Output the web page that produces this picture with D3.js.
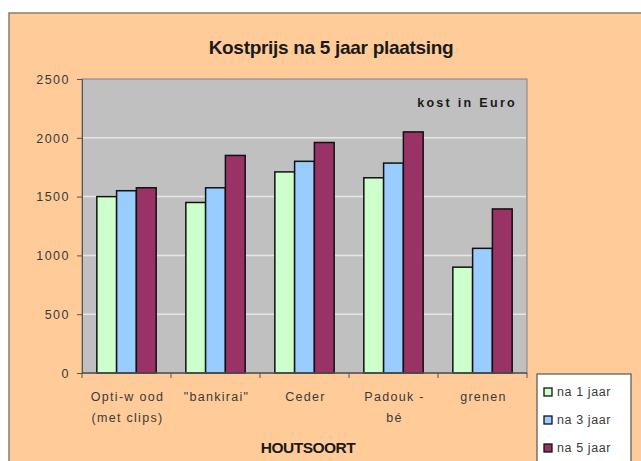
<!DOCTYPE html>
<html lang="nl">
<head>
  <meta charset="utf-8">
  <script src="https://d3js.org/d3.v7.min.js"></script>
  <style>
    body { margin: 0; background: #fff; }
    text { font-family: "Liberation Sans", Arial, sans-serif; }
  </style>
</head>
<body>
<svg id="chart" width="641" height="461"></svg>
<script>
  // data
  const categories = [["Opti-w ood", "(met clips)"], ["\"bankirai\""], ["Ceder"], ["Padouk -", "bé"], ["grenen"]];
  const seriesNames = ["na 1 jaar", "na 3 jaar", "na 5 jaar"];
  const seriesColors = ["#ccffcc", "#99ccff", "#993366"];
  const na1jaar = [1500, 1450, 1710, 1660, 900];
  const na3jaar = [1550, 1575, 1800, 1785, 1060];
  const na5jaar = [1575, 1850, 1960, 2050, 1395];
  const yTicks = [0, 500, 1000, 1500, 2000, 2500];

  const values = [na1jaar, na3jaar, na5jaar];
  const svg = d3.select("#chart");

  // outer chart area
  svg.append("rect")
    .attr("x", 9).attr("y", 13)
    .attr("width", 660).attr("height", 470)
    .style("fill", "#ffcc99")
    .style("stroke", "#8a7c6e")
    .style("stroke-width", 1.5);

  const plot = { left: 82, right: 527, top: 79, bottom: 373 };

  let x0 = d3.scaleBand()
    .domain(d3.range(categories.length))
    .range([plot.left, plot.right]);
  let x1 = d3.scaleBand()
    .domain(d3.range(seriesNames.length))
    .range([0, x0.bandwidth()])
    .paddingOuter(0.75);
  let y = d3.scaleLinear().domain([0, 2500]).range([plot.bottom, plot.top]);

  // plot area
  svg.append("rect")
    .attr("x", plot.left).attr("y", plot.top)
    .attr("width", plot.right - plot.left).attr("height", plot.bottom - plot.top)
    .style("fill", "#c0c0c0")
    .style("stroke", "#808080")
    .style("stroke-width", 1);

  // grid lines
  svg.append("g").selectAll("line")
    .data(yTicks.filter(d => d > 0 && d < 2500))
    .join("line")
    .attr("x1", plot.left + 1).attr("x2", plot.right - 1)
    .attr("y1", d => y(d)).attr("y2", d => y(d))
    .style("stroke", "#e6e6e6")
    .style("stroke-width", 1.5);

  // bars
  let groups = svg.append("g").selectAll("g")
    .data(categories)
    .join("g")
    .attr("transform", (d, i) => `translate(${x0(i)},0)`);

  groups.selectAll("rect")
    .data((d, i) => values.map((s, j) => ({ s: j, v: s[i] })))
    .join("rect")
    .attr("x", d => x1(d.s))
    .attr("width", x1.bandwidth())
    .attr("y", d => y(d.v))
    .attr("height", d => y(0) - y(d.v))
    .style("fill", d => seriesColors[d.s])
    .style("stroke", "#111")
    .style("stroke-width", 1.5);

  // y axis
  let yAxis = svg.append("g")
    .attr("transform", `translate(${plot.left},0)`)
    .call(d3.axisLeft(y).tickValues(yTicks).tickFormat(d3.format("d")).tickSize(5).tickPadding(7));
  yAxis.select(".domain").style("stroke", "#555");
  yAxis.selectAll(".tick line").style("stroke", "#555");
  yAxis.selectAll(".tick text")
    .style("font-size", "12.5px")
    .style("letter-spacing", "1.5px")
    .style("fill", "#3a3a3a")
    .attr("dy", "0.35em");

  // x axis
  svg.append("line")
    .attr("x1", plot.left).attr("x2", plot.right)
    .attr("y1", plot.bottom).attr("y2", plot.bottom)
    .style("stroke", "#555").style("stroke-width", 1.5);
  svg.append("g").selectAll("line")
    .data(d3.range(categories.length + 1))
    .join("line")
    .attr("x1", d => plot.left + d * x0.step())
    .attr("x2", d => plot.left + d * x0.step())
    .attr("y1", plot.bottom).attr("y2", plot.bottom + 5)
    .style("stroke", "#555");

  let xLabels = svg.append("g").selectAll("text")
    .data(categories)
    .join("text")
    .attr("x", (d, i) => x0(i) + x0.bandwidth() / 2 + 1)
    .attr("y", 401)
    .attr("text-anchor", "middle")
    .style("font-size", "12.5px")
    .style("letter-spacing", "1.3px")
    .style("fill", "#3a3a3a");
  xLabels.selectAll("tspan")
    .data(d => d)
    .join("tspan")
    .attr("x", function () { return this.parentNode.getAttribute("x"); })
    .attr("dy", (d, i) => i === 0 ? 0 : 21)
    .text(d => d);

  // titles
  svg.append("text")
    .attr("x", 331).attr("y", 54)
    .attr("text-anchor", "middle")
    .style("font-size", "19px")
    .style("font-weight", "bold")
    .style("letter-spacing", "-0.3px")
    .style("fill", "#1a1a1a")
    .text("Kostprijs na 5 jaar plaatsing");

  svg.append("text")
    .attr("x", 517).attr("y", 107)
    .attr("text-anchor", "end")
    .style("font-size", "12.5px")
    .style("font-weight", "bold")
    .style("letter-spacing", "2.3px")
    .style("fill", "#1a1a1a")
    .text("kost in Euro");

  svg.append("text")
    .attr("x", 308).attr("y", 453)
    .attr("text-anchor", "middle")
    .style("font-size", "15.5px")
    .style("font-weight", "bold")
    .style("letter-spacing", "-0.5px")
    .style("fill", "#1a1a1a")
    .text("HOUTSOORT");

  // legend
  let legend = svg.append("g").attr("transform", "translate(537,374)");
  legend.append("rect")
    .attr("width", 94).attr("height", 100)
    .style("fill", "#fff")
    .style("stroke", "#555")
    .style("stroke-width", 1.2);
  let items = legend.selectAll("g.item")
    .data(seriesNames)
    .join("g")
    .attr("class", "item")
    .attr("transform", (d, i) => `translate(7,${18 + i * 28})`);
  items.append("rect")
    .attr("x", 0).attr("y", -4)
    .attr("width", 8).attr("height", 8)
    .style("fill", (d, i) => seriesColors[i])
    .style("stroke", "#111")
    .style("stroke-width", 1.3);
  items.append("text")
    .attr("x", 13).attr("y", 0)
    .attr("dy", "0.35em")
    .style("font-size", "12.5px")
    .style("letter-spacing", "0.6px")
    .style("fill", "#3a3a3a")
    .text(d => d);
</script>
</body>
</html>
